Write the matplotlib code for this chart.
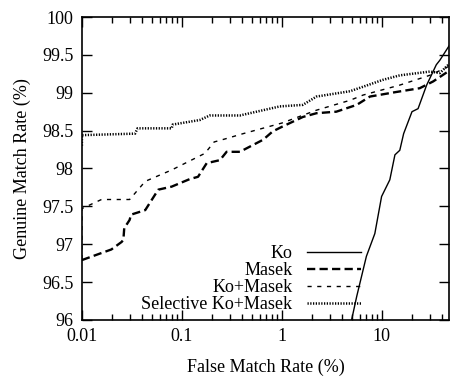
import numpy as np
from matplotlib import pyplot as plt
from matplotlib.ticker import LogLocator, NullFormatter

plt.rcParams['font.family'] = 'Liberation Serif'
plt.rcParams['font.size'] = 13

# false match rate (%) / genuine match rate (%)
ko_fmr = [4.98, 5.6, 7.0, 8.5, 9.93, 12.0, 13.5, 15.1, 16.5, 20, 23, 28, 35, 38, 47]
ko_gmr = [96.0, 96.31, 96.84, 97.14, 97.63, 97.85, 98.18, 98.24, 98.46, 98.75, 98.79, 99.10, 99.37, 99.43, 99.62]

masek_fmr = [0.01, 0.0197, 0.025, 0.026, 0.0265, 0.030, 0.031, 0.043, 0.058, 0.079, 0.12, 0.145,
             0.177, 0.24, 0.28, 0.38, 0.65, 0.81, 1.0, 1.62, 2.22, 3.5, 5.6, 7.6, 13.9, 23.9, 32.6, 47]
masek_gmr = [96.79, 96.93, 97.03, 97.06, 97.21, 97.32, 97.39, 97.45, 97.72, 97.76, 97.86, 97.89,
             98.07, 98.11, 98.22, 98.22, 98.38, 98.49, 98.55, 98.68, 98.73, 98.75, 98.84, 98.95, 99.01, 99.06, 99.15, 99.29]

komasek_fmr = [0.01, 0.01, 0.0157, 0.030, 0.043, 0.079, 0.17, 0.21, 0.27, 0.41, 1.0, 2.22, 4.79, 6.5, 15, 30, 47]
komasek_gmr = [96.8, 97.47, 97.59, 97.59, 97.83, 97.98, 98.20, 98.35, 98.39, 98.46, 98.60, 98.77, 98.90, 98.97, 99.10, 99.23, 99.35]

sel_fmr = [0.01, 0.01, 0.034, 0.036, 0.079, 0.081, 0.151, 0.19, 0.38, 0.955, 1.62, 2.22, 4.79, 6.5, 10.2, 15.1, 30.2, 38, 47]
sel_gmr = [98.3, 98.44, 98.46, 98.53, 98.53, 98.58, 98.64, 98.70, 98.70, 98.82, 98.84, 98.95, 99.02, 99.08, 99.17, 99.23, 99.28, 99.26, 99.38]

fig = plt.figure(figsize=(4.5, 3.79), dpi=100)
ax = fig.add_axes([0.182, 0.156, 0.816, 0.799])

ax.plot(ko_fmr, ko_gmr, color='black', lw=1.0, label='Ko')
ax.plot(masek_fmr, masek_gmr, color='black', lw=1.7, dashes=(3.5, 1.8), label='Masek')
ax.plot(komasek_fmr, komasek_gmr, color='black', lw=1.0, dashes=(3, 4), label='Ko+Masek')
ax.plot(sel_fmr, sel_gmr, color='black', lw=1.8, dashes=(0.5, 0.6), label='Selective Ko+Masek')

ax.set_xscale('log')
ax.set_xlim(0.01, 47)
ax.set_ylim(96, 100)
ax.set_xticks([0.01, 0.1, 1, 10])
ax.set_xticklabels(['0.01', '0.1', '1', '10'])
ax.xaxis.set_minor_locator(LogLocator(base=10, subs=np.arange(2, 10)))
ax.xaxis.set_minor_formatter(NullFormatter())
ax.set_yticks(np.arange(96, 100.01, 0.5))
ax.set_yticklabels(['96', '96.5', '97', '97.5', '98', '98.5', '99', '99.5', '100'])

ax.tick_params(which='both', direction='in', top=True, right=True, width=1)
ax.tick_params(which='major', length=7, pad=6)
ax.tick_params(which='minor', length=4)
for s in ax.spines.values():
    s.set_linewidth(1.2)

ax.set_xlabel('False Match Rate (%)', labelpad=10)
ax.set_ylabel('Genuine Match Rate (%)', labelpad=8)

ax.legend(loc='lower right', bbox_to_anchor=(0.795, -0.02), frameon=False, markerfirst=False,
          handlelength=3.0, labelspacing=0.0, handletextpad=0.8, borderaxespad=0.3)

fig.savefig('out.png', dpi=100)
